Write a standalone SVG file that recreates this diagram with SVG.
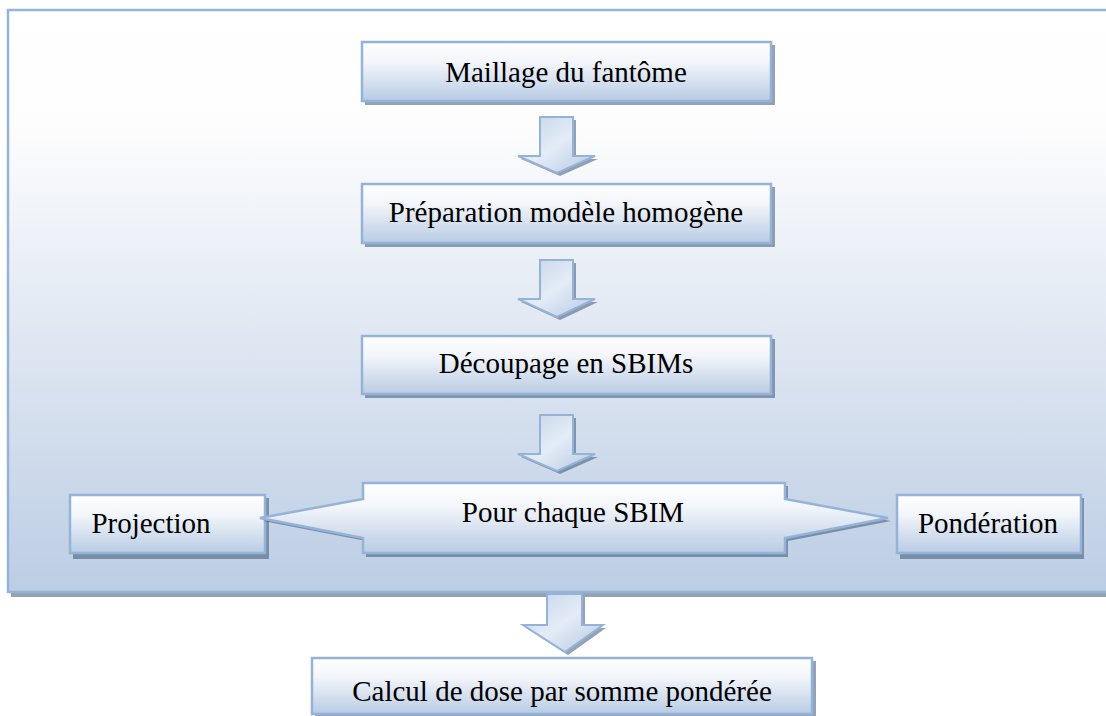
<svg xmlns="http://www.w3.org/2000/svg" width="1106" height="716" viewBox="0 0 1106 716">
<defs>
<linearGradient id="bg" x1="0" y1="0" x2="0" y2="1">
<stop offset="0" stop-color="#ffffff"/>
<stop offset="0.2" stop-color="#fdfdfe"/>
<stop offset="1" stop-color="#bccde4"/>
</linearGradient>
<linearGradient id="box" x1="0" y1="0" x2="0" y2="1">
<stop offset="0" stop-color="#ffffff"/>
<stop offset="0.35" stop-color="#f2f5fa"/>
<stop offset="1" stop-color="#b8cbe4"/>
</linearGradient>
<linearGradient id="arr" x1="0" y1="0" x2="1" y2="1">
<stop offset="0" stop-color="#c2d3ea"/>
<stop offset="0.5" stop-color="#e4ecf6"/>
<stop offset="1" stop-color="#b3c8e3"/>
</linearGradient>
<style>
.sh{fill:#3d5678;fill-opacity:0.55}
.bx{fill:url(#box);stroke:#95b3d7;stroke-width:2.5}
.ar{fill:url(#arr);stroke:#95b3d7;stroke-width:2;stroke-linejoin:miter}
.t{font-family:'Liberation Serif',serif;font-size:29px;fill:#000;text-anchor:middle}
</style>
</defs>
<rect width="1106" height="716" fill="#ffffff"/>
<g id="container">
<rect class="sh" x="11" y="14" width="1110" height="583"/>
<rect x="8" y="10" width="1110" height="582" fill="url(#bg)" stroke="#95b3d7" stroke-width="2.5"/>
</g>
<g id="connectors">
<polygon class="sh" points="543,120 576,120 576,159 598,159 560,176 521,159 543,159"/>
<polygon class="ar" points="540,117 573,117 573,156 595,156 557,173 518,156 540,156"/>
<polygon class="sh" points="543,263 576,263 576,302 598,302 560,320 521,302 543,302"/>
<polygon class="ar" points="540,260 573,260 573,299 595,299 557,317 518,299 540,299"/>
<polygon class="sh" points="543,418 576,418 576,457 598,457 560,474 521,457 543,457"/>
<polygon class="ar" points="540,415 573,415 573,454 595,454 557,471 518,454 540,454"/>
<polygon class="sh" points="550,597 585,597 585,628 606,628 568,655 526,628 550,628"/>
<polygon class="ar" points="547,594 582,594 582,625 603,625 565,652 523,625 547,625"/>
</g>
<g id="n1">
<rect class="sh" x="365" y="45" width="410" height="60"/>
<rect class="bx" x="362" y="42" width="409" height="59"/>
<text class="t" x="566" y="82">Maillage du fantôme</text>
</g>
<g id="n2">
<rect class="sh" x="365" y="187" width="410" height="60"/>
<rect class="bx" x="362" y="184" width="409" height="59"/>
<text class="t" x="566" y="222">Préparation modèle homogène</text>
</g>
<g id="n3">
<rect class="sh" x="365" y="339" width="410" height="59"/>
<rect class="bx" x="362" y="336" width="409" height="58"/>
<text class="t" x="566" y="373">Découpage en SBIMs</text>
</g>
<g id="proj">
<rect class="sh" x="73" y="498" width="196" height="61"/>
<rect class="bx" x="70" y="495" width="195" height="58"/>
<text class="t" x="151" y="533">Projection</text>
</g>
<g id="pond">
<rect class="sh" x="900" y="498" width="184" height="61"/>
<rect class="bx" x="897" y="495" width="184" height="58"/>
<text class="t" x="988" y="533">Pondération</text>
</g>
<g id="sbim">
<path class="sh" d="M366,486 H788 V502 L891,521 L788,541 V557 H366 V541 L263,521 L366,502 Z"/>
<path class="bx" d="M363,483 H785 V499 L888,518 L785,538 V553 H363 V538 L260,518 L363,499 Z"/>
<text class="t" x="573" y="522">Pour chaque SBIM</text>
</g>
<g id="calc">
<rect class="sh" x="315" y="661" width="501" height="58"/>
<rect class="bx" x="312" y="658" width="500" height="56"/>
<text class="t" x="562" y="701">Calcul de dose par somme pondérée</text>
</g>
</svg>
